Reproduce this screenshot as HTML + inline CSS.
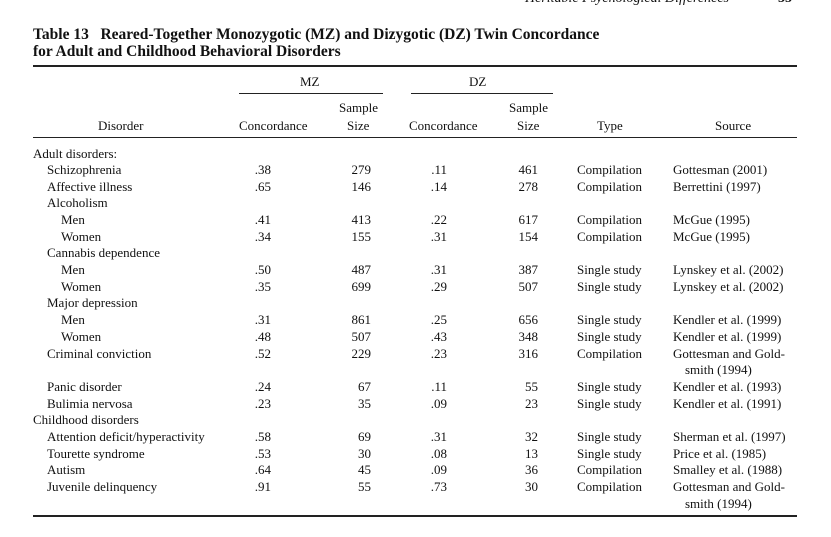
<!DOCTYPE html>
<html><head><meta charset="utf-8"><style>
body{margin:0;width:831px;height:537px;background:#fff;overflow:hidden;position:relative;font-family:"Liberation Serif",serif;color:#111;}
.t{position:absolute;font-size:13px;line-height:16px;white-space:nowrap;}
.h{position:absolute;background:#222;}
.row{position:absolute;left:0;width:831px;height:16px;}
.row span{position:absolute;top:0;font-size:13px;line-height:16px;white-space:nowrap;}
.a{right:560px}.b{right:460px}.c{right:384px}.d{right:293px}.e{left:577px}.f{left:673px}
</style></head><body>
<div class="t" style="left:525px;top:-9px;font-style:italic;font-size:14px;">Heritable Psychological Differences</div>
<div class="t" style="left:778px;top:-9px;font-weight:bold;font-size:14px;">35</div>
<div class="t" style="left:33px;top:27px;font-weight:bold;font-size:15.5px;">Table 13&nbsp;&nbsp; Reared-Together Monozygotic (MZ) and Dizygotic (DZ) Twin Concordance</div>
<div class="t" style="left:33px;top:44px;font-weight:bold;font-size:15.5px;">for Adult and Childhood Behavioral Disorders</div>
<div class="h" style="left:33px;top:65px;width:764px;height:1.5px;"></div>
<div class="t" style="left:300px;top:74px;">MZ</div>
<div class="t" style="left:469px;top:74px;">DZ</div>
<div class="h" style="left:239px;top:93px;width:144px;height:1px;"></div>
<div class="h" style="left:411px;top:93px;width:142px;height:1px;"></div>
<div class="t" style="left:339px;top:100px;">Sample</div>
<div class="t" style="left:509px;top:100px;">Sample</div>
<div class="t" style="left:98px;top:118px;">Disorder</div>
<div class="t" style="left:239px;top:118px;">Concordance</div>
<div class="t" style="left:347px;top:118px;">Size</div>
<div class="t" style="left:409px;top:118px;">Concordance</div>
<div class="t" style="left:517px;top:118px;">Size</div>
<div class="t" style="left:597px;top:118px;">Type</div>
<div class="t" style="left:715px;top:118px;">Source</div>
<div class="h" style="left:33px;top:137px;width:764px;height:1px;"></div>

<div class="row" style="top:146px"><span style="left:33px">Adult disorders:</span></div>
<div class="row" style="top:162px"><span style="left:47px">Schizophrenia</span><span class="a">.38</span><span class="b">279</span><span class="c">.11</span><span class="d">461</span><span class="e">Compilation</span><span class="f">Gottesman (2001)</span></div>
<div class="row" style="top:179px"><span style="left:47px">Affective illness</span><span class="a">.65</span><span class="b">146</span><span class="c">.14</span><span class="d">278</span><span class="e">Compilation</span><span class="f">Berrettini (1997)</span></div>
<div class="row" style="top:195px"><span style="left:47px">Alcoholism</span></div>
<div class="row" style="top:212px"><span style="left:61px">Men</span><span class="a">.41</span><span class="b">413</span><span class="c">.22</span><span class="d">617</span><span class="e">Compilation</span><span class="f">McGue (1995)</span></div>
<div class="row" style="top:229px"><span style="left:61px">Women</span><span class="a">.34</span><span class="b">155</span><span class="c">.31</span><span class="d">154</span><span class="e">Compilation</span><span class="f">McGue (1995)</span></div>
<div class="row" style="top:245px"><span style="left:47px">Cannabis dependence</span></div>
<div class="row" style="top:262px"><span style="left:61px">Men</span><span class="a">.50</span><span class="b">487</span><span class="c">.31</span><span class="d">387</span><span class="e">Single study</span><span class="f">Lynskey et al. (2002)</span></div>
<div class="row" style="top:279px"><span style="left:61px">Women</span><span class="a">.35</span><span class="b">699</span><span class="c">.29</span><span class="d">507</span><span class="e">Single study</span><span class="f">Lynskey et al. (2002)</span></div>
<div class="row" style="top:295px"><span style="left:47px">Major depression</span></div>
<div class="row" style="top:312px"><span style="left:61px">Men</span><span class="a">.31</span><span class="b">861</span><span class="c">.25</span><span class="d">656</span><span class="e">Single study</span><span class="f">Kendler et al. (1999)</span></div>
<div class="row" style="top:329px"><span style="left:61px">Women</span><span class="a">.48</span><span class="b">507</span><span class="c">.43</span><span class="d">348</span><span class="e">Single study</span><span class="f">Kendler et al. (1999)</span></div>
<div class="row" style="top:346px"><span style="left:47px">Criminal conviction</span><span class="a">.52</span><span class="b">229</span><span class="c">.23</span><span class="d">316</span><span class="e">Compilation</span><span class="f">Gottesman and Gold-</span></div>
<div class="row" style="top:362px"><span style="left:685px">smith (1994)</span></div>
<div class="row" style="top:379px"><span style="left:47px">Panic disorder</span><span class="a">.24</span><span class="b">67</span><span class="c">.11</span><span class="d">55</span><span class="e">Single study</span><span class="f">Kendler et al. (1993)</span></div>
<div class="row" style="top:396px"><span style="left:47px">Bulimia nervosa</span><span class="a">.23</span><span class="b">35</span><span class="c">.09</span><span class="d">23</span><span class="e">Single study</span><span class="f">Kendler et al. (1991)</span></div>
<div class="row" style="top:412px"><span style="left:33px">Childhood disorders</span></div>
<div class="row" style="top:429px"><span style="left:47px">Attention deficit/hyperactivity</span><span class="a">.58</span><span class="b">69</span><span class="c">.31</span><span class="d">32</span><span class="e">Single study</span><span class="f">Sherman et al. (1997)</span></div>
<div class="row" style="top:446px"><span style="left:47px">Tourette syndrome</span><span class="a">.53</span><span class="b">30</span><span class="c">.08</span><span class="d">13</span><span class="e">Single study</span><span class="f">Price et al. (1985)</span></div>
<div class="row" style="top:462px"><span style="left:47px">Autism</span><span class="a">.64</span><span class="b">45</span><span class="c">.09</span><span class="d">36</span><span class="e">Compilation</span><span class="f">Smalley et al. (1988)</span></div>
<div class="row" style="top:479px"><span style="left:47px">Juvenile delinquency</span><span class="a">.91</span><span class="b">55</span><span class="c">.73</span><span class="d">30</span><span class="e">Compilation</span><span class="f">Gottesman and Gold-</span></div>
<div class="row" style="top:496px"><span style="left:685px">smith (1994)</span></div>
<div class="h" style="left:33px;top:515px;width:764px;height:1.5px;"></div>
</body></html>
